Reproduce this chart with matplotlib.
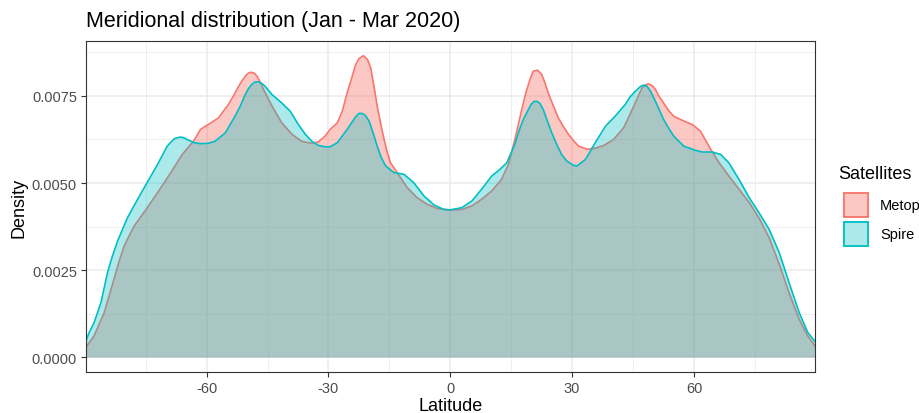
import matplotlib
matplotlib.use("Agg")
import matplotlib.pyplot as plt
from matplotlib.patches import Rectangle

plt.rcParams['font.family'] = ['Liberation Sans', 'DejaVu Sans']

# Kernel density of observation latitudes, Jan - Mar 2020
metop_lat = [-89.7, -87.7, -85.2, -84.0, -82.8, -81.6, -80.3, -79.0, -77.8, -76.2,
             -74.9, -72.1, -68.8, -66.0, -63.1, -61.5, -59.6, -57.1, -54.6, -53.4,
             -52.1, -51.1, -50.1, -49.5, -48.9, -48.2, -47.6, -46.8, -46.0, -43.9,
             -41.5, -39.0, -36.6, -34.1, -32.5, -30.8, -29.6, -27.8, -26.6, -25.4,
             -24.4, -23.3, -22.5, -21.4, -20.4, -19.6, -18.8, -18.0, -17.2, -16.3,
             -15.5, -14.7, -13.1, -10.6, -8.2, -5.7, -3.2, 0.0, 2.8, 5.3,
             7.7, 10.2, 12.6, 14.3, 15.9, 17.6, 18.6, 19.6, 20.4, 21.5,
             22.5, 23.3, 24.1, 25.4, 26.6, 27.8, 29.1, 30.3, 31.6, 33.7,
             35.7, 37.8, 40.2, 42.7, 45.2, 46.3, 47.2, 48.0, 48.8, 49.7,
             50.5, 51.3, 52.5, 53.7, 55.0, 57.5, 59.6, 61.6, 64.1, 66.2,
             68.6, 71.1, 73.6, 76.0, 78.5, 81.0, 83.4, 85.9, 88.0, 89.8]
metop_density = [0.00028, 0.00061, 0.00128, 0.00176, 0.00224, 0.00273, 0.00319, 0.00350, 0.00377, 0.00403,
                 0.00424, 0.00472, 0.00530, 0.00582, 0.00622, 0.00654, 0.00668, 0.00687, 0.00726, 0.00750,
                 0.00778, 0.00797, 0.00812, 0.00817, 0.00818, 0.00815, 0.00807, 0.00790, 0.00769, 0.00721,
                 0.00673, 0.00640, 0.00620, 0.00614, 0.00618, 0.00635, 0.00654, 0.00673, 0.00706, 0.00759,
                 0.00797, 0.00840, 0.00857, 0.00866, 0.00855, 0.00831, 0.00778, 0.00721, 0.00673, 0.00625,
                 0.00587, 0.00558, 0.00530, 0.00487, 0.00458, 0.00439, 0.00427, 0.00422, 0.00424, 0.00434,
                 0.00453, 0.00477, 0.00510, 0.00553, 0.00625, 0.00711, 0.00759, 0.00797, 0.00821, 0.00824,
                 0.00812, 0.00788, 0.00759, 0.00721, 0.00687, 0.00663, 0.00640, 0.00622, 0.00606, 0.00597,
                 0.00600, 0.00608, 0.00625, 0.00659, 0.00721, 0.00750, 0.00773, 0.00781, 0.00785, 0.00780,
                 0.00769, 0.00751, 0.00730, 0.00709, 0.00692, 0.00678, 0.00668, 0.00649, 0.00597, 0.00558,
                 0.00520, 0.00482, 0.00444, 0.00400, 0.00343, 0.00267, 0.00185, 0.00109, 0.00061, 0.00032]

spire_lat = [-89.7, -88.9, -87.7, -86.0, -84.4, -83.2, -81.9, -80.7, -79.5, -77.0,
             -74.9, -72.1, -69.7, -68.0, -67.2, -66.4, -65.6, -64.8, -63.1, -61.5,
             -59.7, -57.9, -55.4, -53.0, -51.7, -50.5, -49.7, -48.9, -48.1, -47.3,
             -46.4, -45.6, -43.9, -41.5, -39.4, -37.4, -35.7, -34.1, -32.5, -30.8,
             -29.6, -27.8, -25.4, -24.6, -23.3, -22.5, -21.7, -20.9, -20.0, -19.0,
             -18.0, -17.0, -15.9, -13.9, -11.4, -9.0, -6.5, -4.0, -1.6, 0.0,
             2.8, 5.3, 7.7, 10.2, 12.2, 13.9, 15.9, 16.9, 18.0, 19.0,
             19.9, 20.6, 21.3, 22.1, 22.9, 23.9, 25.0, 26.2, 27.4, 28.7,
             30.3, 31.2, 33.3, 35.7, 38.2, 40.6, 43.1, 44.3, 45.6, 46.4,
             47.2, 47.8, 48.4, 49.3, 50.5, 51.5, 52.5, 53.7, 55.0, 57.5,
             60.3, 62.1, 64.5, 66.6, 68.6, 71.1, 73.6, 76.0, 78.5, 81.0,
             83.4, 85.9, 88.0, 89.8]
spire_density = [0.00047, 0.00071, 0.00099, 0.00157, 0.00243, 0.00290, 0.00334, 0.00367, 0.00400, 0.00453,
                 0.00496, 0.00553, 0.00606, 0.00627, 0.00630, 0.00632, 0.00630, 0.00625, 0.00616, 0.00613,
                 0.00614, 0.00620, 0.00644, 0.00692, 0.00721, 0.00754, 0.00771, 0.00783, 0.00790, 0.00791,
                 0.00786, 0.00778, 0.00754, 0.00730, 0.00706, 0.00668, 0.00640, 0.00620, 0.00608, 0.00604,
                 0.00604, 0.00616, 0.00654, 0.00668, 0.00690, 0.00700, 0.00700, 0.00694, 0.00678, 0.00644,
                 0.00606, 0.00573, 0.00549, 0.00530, 0.00525, 0.00501, 0.00463, 0.00437, 0.00424, 0.00423,
                 0.00429, 0.00448, 0.00482, 0.00520, 0.00539, 0.00558, 0.00611, 0.00649, 0.00683, 0.00706,
                 0.00726, 0.00734, 0.00735, 0.00728, 0.00711, 0.00678, 0.00644, 0.00611, 0.00582, 0.00563,
                 0.00551, 0.00549, 0.00568, 0.00616, 0.00663, 0.00692, 0.00726, 0.00748, 0.00764, 0.00773,
                 0.00780, 0.00781, 0.00778, 0.00764, 0.00735, 0.00709, 0.00683, 0.00659, 0.00635, 0.00606,
                 0.00594, 0.00589, 0.00589, 0.00582, 0.00558, 0.00510, 0.00458, 0.00415, 0.00367, 0.00300,
                 0.00214, 0.00128, 0.00071, 0.00045]

series_names = ["Metop", "Spire"]
series_colors = ["#F8766D", "#00BFC4"]
x_ticks = [-60, -30, 0, 30, 60]
x_minor = [-75, -45, -15, 15, 45, 75]
y_ticks = [0.0, 0.0025, 0.005, 0.0075]
y_minor = [0.00125, 0.00375, 0.00625, 0.00875]
y_tick_labels = ["0.0000", "0.0025", "0.0050", "0.0075"]

fig = plt.figure(figsize=(9.2, 4.14), dpi=100)
ax = fig.add_axes([86 / 920, 1 - 373 / 414, (815 - 86) / 920, (373 - 42) / 414])

for x in x_minor:
    ax.axvline(x, color="#EBEBEB", lw=0.55, zorder=0)
for y in y_minor:
    ax.axhline(y, color="#EBEBEB", lw=0.55, zorder=0)
for x in x_ticks:
    ax.axvline(x, color="#EBEBEB", lw=1.1, zorder=0)
for y in y_ticks:
    ax.axhline(y, color="#EBEBEB", lw=1.1, zorder=0)

alphas = [0.4, 0.33]
for (lat, dens), name, col, a in zip([(metop_lat, metop_density), (spire_lat, spire_density)],
                                    series_names, series_colors, alphas):
    ax.fill_between(lat, 0, dens, color=col, alpha=a, lw=0, zorder=2)
    ax.plot(lat, dens, color=col, lw=1.2, zorder=2, solid_joinstyle="round")

ax.set_xlim(min(metop_lat + spire_lat), max(metop_lat + spire_lat))
ax.set_ylim(-0.00043, 0.00908)
ax.set_xticks(x_ticks)
ax.set_xticklabels([str(t) for t in x_ticks])
ax.set_yticks(y_ticks)
ax.set_yticklabels(y_tick_labels)
ax.tick_params(axis="both", direction="out", length=3.5, width=0.8, color="#333333",
               labelcolor="#4D4D4D", labelsize=10.5, pad=3)
for s in ax.spines.values():
    s.set_color("#333333")
    s.set_linewidth(0.8)
ax.set_xlabel("Latitude", fontsize=13, color="black", labelpad=1.5)
ax.set_ylabel("Density", fontsize=13, color="black", labelpad=3)

fig.text(86 / 920, 1 - 22 / 414, "Meridional distribution (Jan - Mar 2020)",
         fontsize=15.5, ha="left", va="center", color="black")

# legend
fig.text(838 / 920, 1 - 175 / 414, "Satellites", fontsize=13, ha="left", va="center")
key_tops = [193, 222]
for top, name, col, a in zip(key_tops, series_names, series_colors, alphas):
    fig.add_artist(Rectangle((843 / 920, 1 - (top + 26) / 414), 26 / 920, 26 / 414,
                             transform=fig.transFigure, facecolor="white", edgecolor="none"))
    fig.add_artist(Rectangle((843 / 920, 1 - (top + 26) / 414), 26 / 920, 26 / 414,
                             transform=fig.transFigure, facecolor=col, alpha=a, edgecolor="none"))
    fig.add_artist(Rectangle((844 / 920, 1 - (top + 25) / 414), 24 / 920, 24 / 414,
                             transform=fig.transFigure, facecolor="none", edgecolor=col, lw=1.3))
    fig.text(880 / 920, 1 - (top + 13) / 414, name, fontsize=10.5, ha="left", va="center")

fig.savefig("out.png", dpi=100)
